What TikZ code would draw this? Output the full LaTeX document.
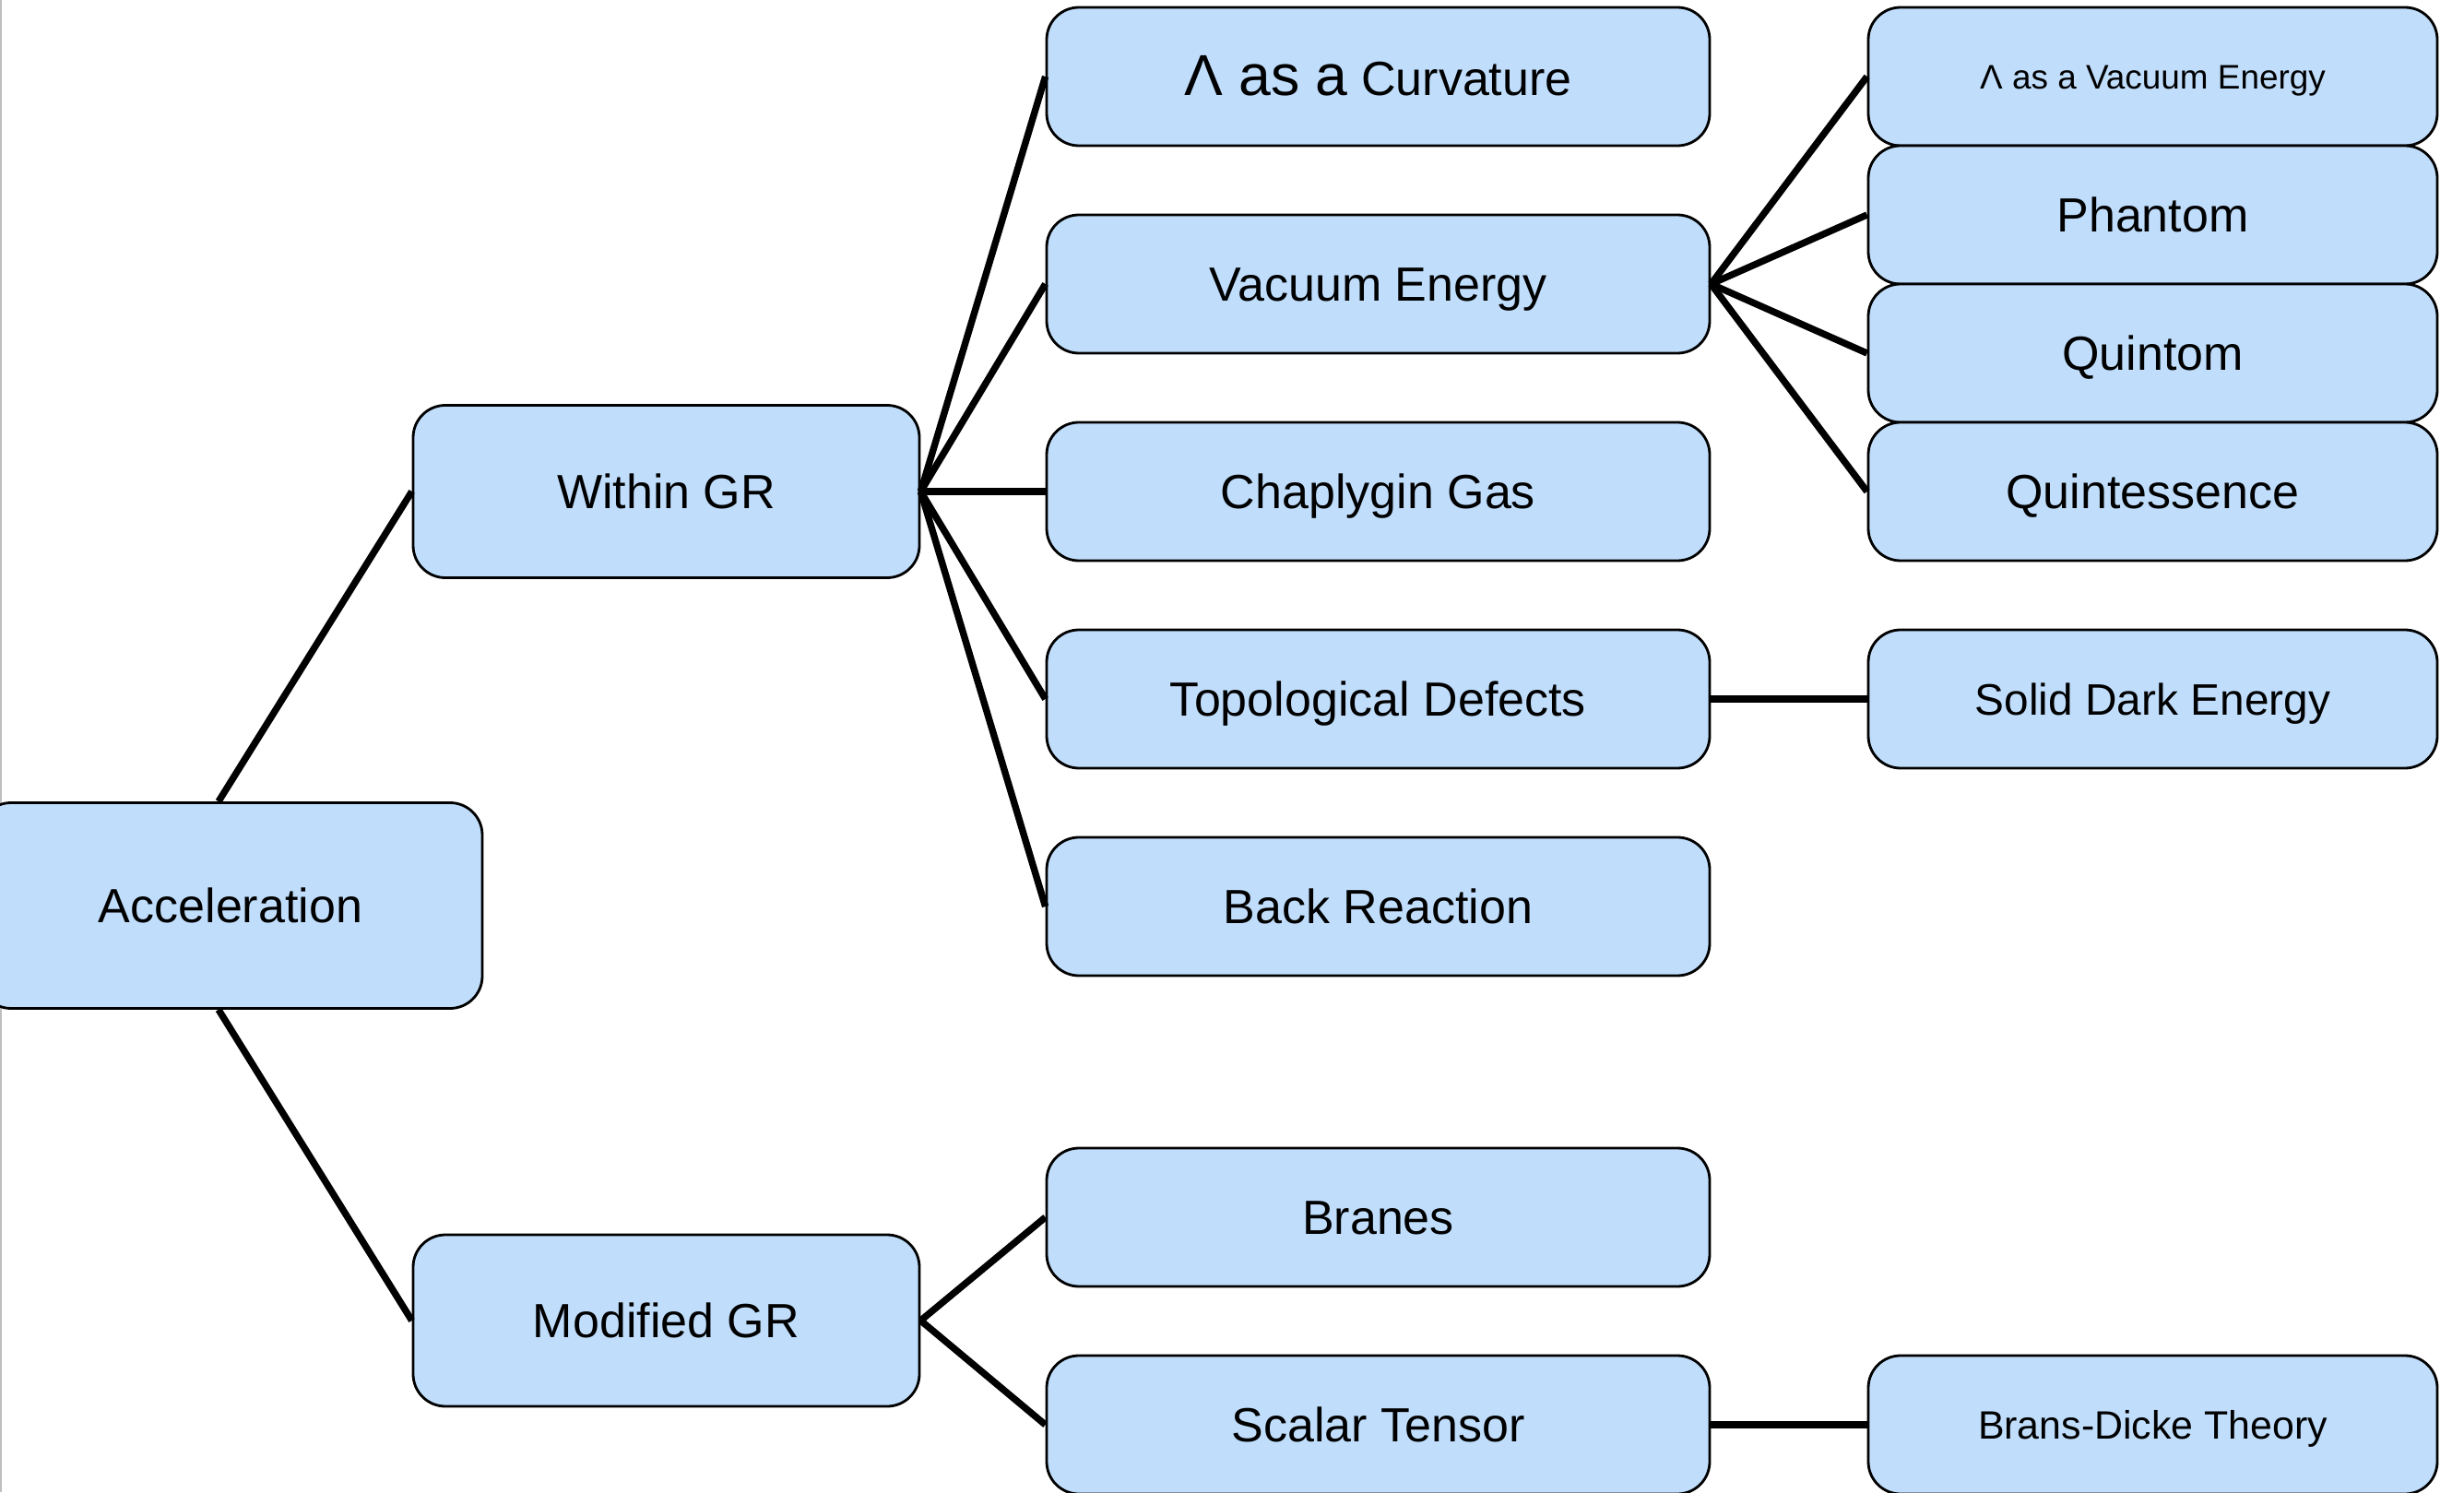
\documentclass[tikz,border=0pt]{standalone}
\usepackage{fontspec}
\setmainfont{Liberation Sans}
\usepackage{tikz}
\definecolor{boxblue}{RGB}{192,222,252}

\begin{document}
\begin{tikzpicture}[>=latex,
    box/.style={draw, line width=0.8pt, fill=boxblue, rounded corners=0.35cm, inner sep=0pt, align=center, text height=10.6pt, text depth=0pt, font=\fontsize{14.8}{17}\selectfont},
    mid/.style={box, minimum width=7.19cm, minimum height=1.5cm},
    leaf/.style={box, minimum width=6.17cm, minimum height=1.5cm},
    link/.style={line width=2.1pt}]
        \useasboundingbox (0,0) rectangle (26.72,16.18);
        \draw[gray!50, line width=1pt] (0,0) -- (0,16.18); % page edge
        % root and first level
        \node[box, minimum width=5.46cm, minimum height=2.23cm] (accel) at (2.50,6.36) {Acceleration};
        \node[box, minimum width=5.49cm, minimum height=1.87cm] (withingr) at (7.225,10.85) {Within GR};
        \node[box, minimum width=5.49cm, minimum height=1.86cm] (modgr) at (7.225,1.86) {Modified GR};
        % second level
        \node[mid, text height=11.6pt] (curv) at (14.945,15.35) {{\fontsize{17.8}{20}\selectfont Λ as a} Curvature};
        \node[mid] (vac) at (14.945,13.10) {Vacuum Energy};
        \node[mid] (chap) at (14.945,10.85) {Chaplygin Gas};
        \node[mid] (topo) at (14.945,8.60) {Topological Defects};
        \node[mid] (back) at (14.945,6.35) {Back Reaction};
        \node[mid] (branes) at (14.945,2.98) {Branes};
        \node[mid] (scalar) at (14.945,0.73) {Scalar Tensor};
        % third level
        \node[leaf, font=\fontsize{10.5}{12}\selectfont, text height=7.5pt] (lvac) at (23.345,15.35) {Λ as a Vacuum Energy};
        \node[leaf] (phantom) at (23.345,13.85) {Phantom};
        \node[leaf] (quintom) at (23.345,12.35) {Quintom};
        \node[leaf] (quint) at (23.345,10.85) {Quintessence};
        \node[leaf, font=\fontsize{13.6}{16}\selectfont, text height=9.8pt] (solid) at (23.345,8.60) {Solid Dark Energy};
        \node[leaf, font=\fontsize{12.2}{14}\selectfont, text height=8.8pt] (brans) at (23.345,0.73) {Brans-Dicke Theory};
        % connectors
        \draw[link] ([xshift=-0.13cm]accel.north) -- (withingr.west);
        \draw[link] ([xshift=-0.13cm]accel.south) -- (modgr.west);
        \draw[link] (withingr.east) -- (curv.west);
        \draw[link] (withingr.east) -- (vac.west);
        \draw[link] (withingr.east) -- (chap.west);
        \draw[link] (withingr.east) -- (topo.west);
        \draw[link] (withingr.east) -- (back.west);
        \draw[link] (modgr.east) -- (branes.west);
        \draw[link] (modgr.east) -- (scalar.west);
        \draw[link] (vac.east) -- (lvac.west);
        \draw[link] (vac.east) -- (phantom.west);
        \draw[link] (vac.east) -- (quintom.west);
        \draw[link] (vac.east) -- (quint.west);
        \draw[link] (topo.east) -- (solid.west);
        \draw[link] (scalar.east) -- (brans.west);
    \end{tikzpicture}
\end{document}
